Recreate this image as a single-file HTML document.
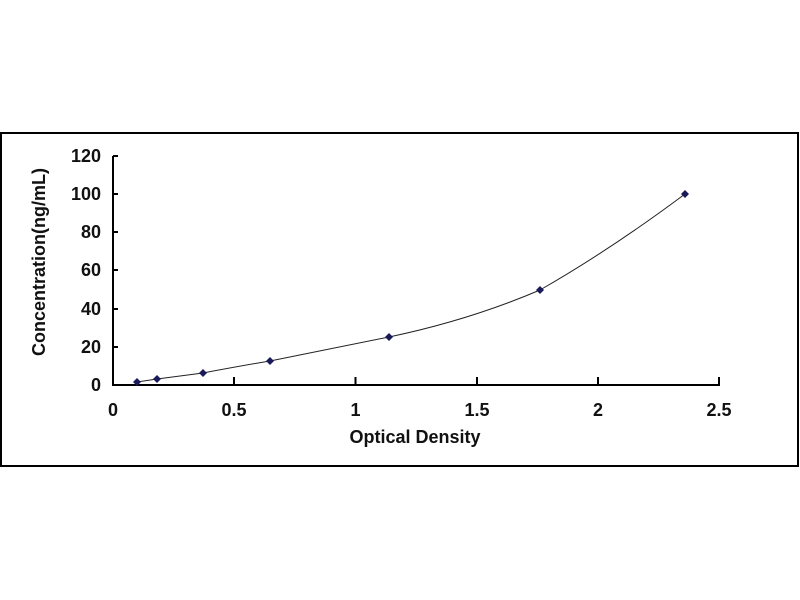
<!DOCTYPE html>
<html><head><meta charset="utf-8"><style>
html,body{margin:0;padding:0;background:#fff;width:800px;height:600px;overflow:hidden}
</style></head><body>
<svg width="800" height="600" xmlns="http://www.w3.org/2000/svg" font-family="Liberation Sans, Arial, sans-serif" font-weight="bold">
<rect x="1" y="133" width="797" height="333" fill="#fff" stroke="#000" stroke-width="2"/>
<g stroke="#000" stroke-width="2" fill="none">
<line x1="113" y1="156" x2="113" y2="385"/>
<line x1="112" y1="385" x2="720" y2="385"/>
<line x1="113" y1="156" x2="118" y2="156"/>
<line x1="113" y1="194" x2="118" y2="194"/>
<line x1="113" y1="232" x2="118" y2="232"/>
<line x1="113" y1="270" x2="118" y2="270"/>
<line x1="113" y1="309" x2="118" y2="309"/>
<line x1="113" y1="347" x2="118" y2="347"/>
<line x1="234" y1="377" x2="234" y2="385"/>
<line x1="355.5" y1="377" x2="355.5" y2="385"/>
<line x1="477" y1="377" x2="477" y2="385"/>
<line x1="598" y1="377" x2="598" y2="385"/>
<line x1="719" y1="377" x2="719" y2="385"/>
</g>
<g font-size="18" text-anchor="end" fill="#111">
<text x="101" y="162">120</text>
<text x="101" y="200">100</text>
<text x="101" y="238">80</text>
<text x="101" y="276">60</text>
<text x="101" y="315">40</text>
<text x="101" y="353">20</text>
<text x="101" y="391">0</text>
</g>
<g font-size="18" text-anchor="middle" fill="#111">
<text x="113" y="416">0</text>
<text x="234" y="416">0.5</text>
<text x="355.5" y="416">1</text>
<text x="477" y="416">1.5</text>
<text x="598" y="416">2</text>
<text x="719" y="416">2.5</text>
<text x="415" y="443">Optical Density</text>
<text transform="translate(45,262) rotate(-90)">Concentration(ng/mL)</text>
</g>
<path d="M137,382 L157,379 L203,373 Q240,366 270,361 Q330,349 389,337 Q470,320 540,290 Q610,250 685,194" fill="none" stroke="#222" stroke-width="1"/>
<g fill="#1a1a5a">
<path d="M137,378 l4,4 l-4,4 l-4,-4z"/>
<path d="M157,375 l4,4 l-4,4 l-4,-4z"/>
<path d="M203,369 l4,4 l-4,4 l-4,-4z"/>
<path d="M270,357 l4,4 l-4,4 l-4,-4z"/>
<path d="M389,333 l4,4 l-4,4 l-4,-4z"/>
<path d="M540,286 l4,4 l-4,4 l-4,-4z"/>
<path d="M685,190 l4,4 l-4,4 l-4,-4z"/>
</g>
</svg>
</body></html>
